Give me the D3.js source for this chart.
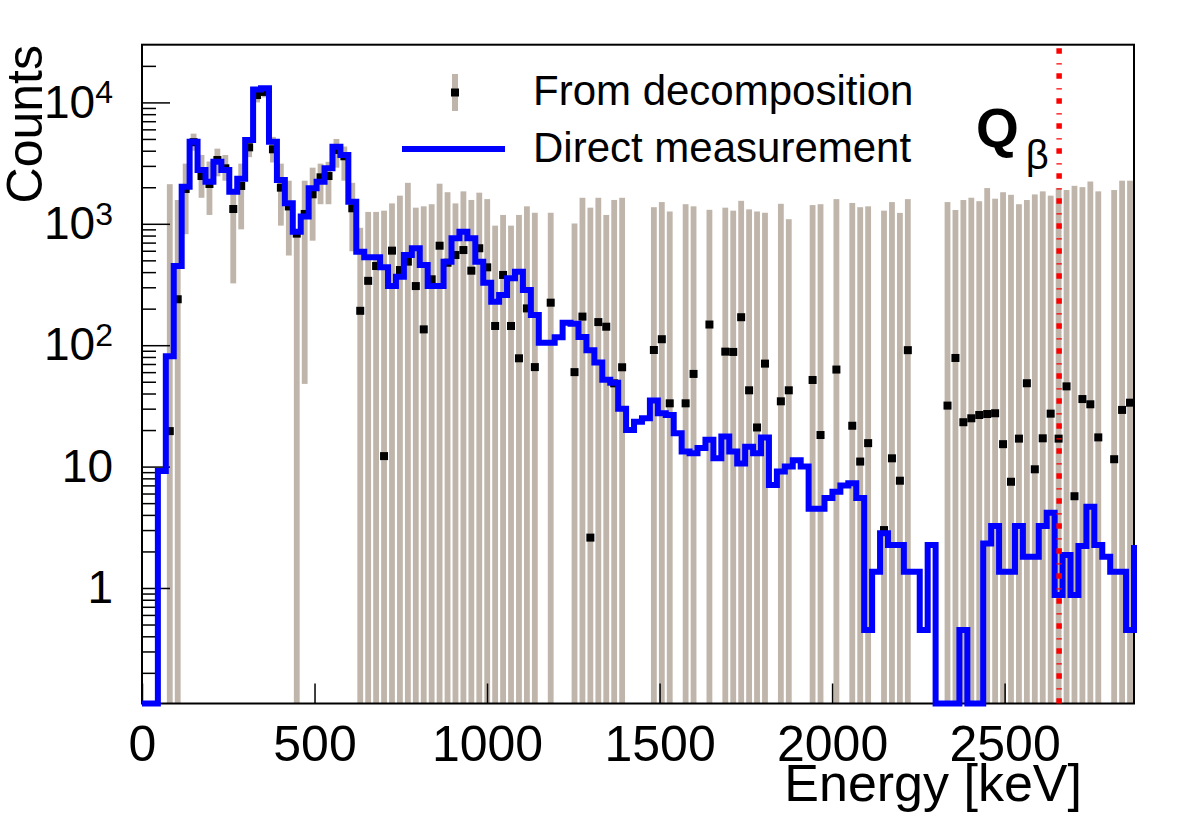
<!DOCTYPE html>
<html>
<head>
<meta charset="utf-8">
<script src="https://cdn.jsdelivr.net/npm/d3@7"></script>
<style>
  html, body { margin: 0; padding: 0; background: #fff; }
  svg { display: block; font-family: "Liberation Sans", Arial, Helvetica, sans-serif; }
</style>
</head>
<body>
<svg id="chart" width="1182" height="819"></svg>
<script>
// 125 bins of 23 keV starting at 0 keV
const binWidth = 23;
const nBins = 125;

// direct measurement (blue histogram); last entry is the first bin past the axis end
const directCounts = [
  0, 0, 9.2, 81, 449, 2020, 4740, 2775, 2220, 3250,
  2775, 1840, 2350, 4900, 12800, 13060, 4740, 2300, 1475, 861,
  1146, 1960, 2220, 2865, 4320, 3690, 1520, 589, 530, 530,
  438, 307, 367, 553, 629, 458, 307, 307, 488, 760,
  861, 760, 488, 327, 228, 259, 356, 403, 285, 177,
  105, 105, 116, 153, 150, 117, 91, 72, 52, 49,
  30, 20, 23.4, 25, 35, 27.5, 26.6, 18.8, 13.3, 12.9,
  14.2, 16.6, 11.7, 17.7, 13.3, 10.6, 14.6, 12.9, 17.4, 7.05,
  9.1, 10, 11.3, 10, 4.5, 4.5, 5.5, 6.2, 7, 7.3,
  5.5, 0.45, 1.36, 2.82, 2.26, 2.26, 1.36, 1.36, 0.45, 2.26,
  0, 0, 0, 0.45, 0, 0, 2.33, 3.24, 1.36, 1.36,
  3.24, 1.81, 1.81, 3.24, 4.17, 0.875, 1.87, 0.875, 2.22, 4.67,
  2.26, 1.81, 1.36, 1.36, 0.45, 2.26
];

// from decomposition (points), null = no point in that bin
const decompCounts = [
  null, null, null, 19.6, 239, 1936, 4700, 2475, 2128, 3355,
  2865, 1324, 2050, 4266, 11500, 12200, 4110, 1985, 1390, 830,
  1205, 1750, 2415, 2475, 4055, 3600, 1342, 192, 339, 449,
  12.2, 601, 416, 488, 307, 135, 349, 660, 478, 553,
  608, 411, 629, 438, 144, 379, 144, 78, 201, 66,
  null, 224, null, null, 60, 172, 2.6, 155, 142, 48.5,
  65.8, null, null, null, 91.3, 112, 33.2, null, 33.2, 58,
  null, 148, null, 88.5, 88, 170, 42.5, 21, 70.5, null,
  34.5, 42.5, null, null, 51.7, 18.2, null, 63, null, 21.7,
  11, 15.6, null, 3.0, 11.7, 7.65, 91, null, null, null,
  null, 31.8, 78.5, 23.2, 25, 26.6, 27.1, 27.5, 15.3, 7.5,
  17, 48.6, 9.5, 17.1, 27.3, 17, 45.8, 5.7, 36, 32.6,
  17.4, null, 11.5, 29.3, 33.6
];

// error band of the decomposition: lower and upper ends (0 = below the axis)
const decompLow = [
  null, null, null, 0, 0, 822, 4000, 1638, 1183, 2460,
  2265, 323, 900, 3540, 10000, 11000, 3200, 966, 548, 0,
  48, 726, 1450, 1450, 2900, 2265, 594, 0, 0, 0,
  0, 0, 0, 0, 0, 0, 0, 0, 0, 0,
  0, 0, 0, 0, 0, 0, 0, 0, 0, 0,
  null, 0, null, null, 0, 0, 0, 0, 0, 0,
  0, null, null, null, 0, 0, 0, null, 0, 0,
  null, 0, null, 0, 0, 0, 0, 0, 0, null,
  0, 0, null, null, 0, 0, null, 0, null, 0,
  0, 0, null, 0, 0, 0, 0, null, null, null,
  null, 0, 0, 0, 0, 0, 0, 0, 0, 0,
  0, 0, 0, 0, 0, 0, 0, 0, 0, 0,
  0, null, 0, 0, 0
];
const decompHigh = [
  null, null, null, 2120, 1570, 3130, 5530, 3690, 3260, 4160,
  3690, 1775, 3130, 4700, 13000, 13500, 5200, 3130, 2265, 855,
  2265, 2900, 3130, 3240, 5000, 4330, 2175, 927, 1253, 1253,
  1283, 1473, 1706, 2175, 1358, 1393, 1450, 2140, 1820, 1473,
  1850, 1572, 1805, 1597, 966, 1183, 966, 1183, 1393, 1233,
  null, 1233, null, null, 1006, 1638, 1358, 1638, 1183, 1572,
  1638, null, null, null, 1370, 1510, 1263, null, 1450, 1393,
  null, 1304, null, 1358, 1283, 1546, 1315, 1263, 1233, null,
  1461, 1091, null, null, 1426, 1450, null, 1597, null, 1485,
  1370, 1393, null, 1283, 1510, 1230, 1597, null, null, null,
  null, 1510, 1300, 1570, 1640, 1535, 1970, 1610, 1820, 1733,
  1450, 1570, 1746, 1850, 1706, 1958, 1897, 2055, 2005, 2230,
  1850, null, 1897, 2265, 2265
];

const xTicks = [0, 500, 1000, 1500, 2000, 2500];
const yMajor = [1, 10, 100, 1000, 10000];
const yMinor = [0.2, 0.3, 0.4, 0.5, 0.6, 0.7, 0.8, 0.9,
  2, 3, 4, 5, 6, 7, 8, 9, 20, 30, 40, 50, 60, 70, 80, 90,
  200, 300, 400, 500, 600, 700, 800, 900,
  2000, 3000, 4000, 5000, 6000, 7000, 8000, 9000, 20000];
const qBeta = 2658;
const legendLabels = ["From decomposition", "Direct measurement"];

const svg = d3.select("#chart");
const W = 1182, H = 819;
const fL = 142, fR = 1134, fT = 44.7, fB = 703.5;

const yMin = 0.1118, yMax = 29880;
const x = d3.scaleLinear().domain([0, nBins * binWidth]).range([fL, fR]);
const y = d3.scaleLog().domain([yMin, yMax]).range([fB, fT]);
const yc = v => (v == null || v <= yMin) ? fB : y(v);

svg.append("rect").attr("width", W).attr("height", H).attr("fill", "#fff");

// error bars (grey)
const barW = 5.8;
const gBars = svg.append("g");
decompCounts.forEach((v, i) => {
  if (decompHigh[i] == null) return;
  const cx = x((i + 0.5) * binWidth);
  const y1 = yc(decompHigh[i]), y2 = yc(decompLow[i]);
  gBars.append("rect")
    .attr("x", cx - barW / 2).attr("width", barW)
    .attr("y", y1).attr("height", Math.max(0, y2 - y1))
    .attr("fill", "#bfb5aa");
});

// points (black squares)
const mk = 8;
svg.append("g").selectAll("rect")
  .data(decompCounts.map((v, i) => ({ v, i })).filter(d => d.v != null))
  .join("rect")
  .attr("x", d => x((d.i + 0.5) * binWidth) - mk / 2)
  .attr("y", d => y(d.v) - mk / 2)
  .attr("width", mk).attr("height", mk)
  .attr("fill", "#000");

// axes
const xAxis = d3.axisBottom(x).tickValues(xTicks)
  .tickSizeInner(-20).tickSizeOuter(0).tickPadding(22)
  .tickFormat(d3.format("d"));
const gx = svg.append("g").attr("transform", `translate(0,${fB})`).call(xAxis);
gx.select(".domain").remove();
gx.selectAll("line").attr("stroke", "#000").attr("stroke-width", 1.5);
gx.selectAll("text").attr("font-size", 50).attr("fill", "#000")
  .attr("font-family", "Liberation Sans, Arial, sans-serif");

const gyMinor = svg.append("g").attr("transform", `translate(${fL},0)`)
  .call(d3.axisLeft(y).tickValues(yMinor).tickSizeInner(-14).tickSizeOuter(0).tickFormat(() => ""));
gyMinor.select(".domain").remove();
gyMinor.selectAll("line").attr("stroke", "#000").attr("stroke-width", 1.5);

const yAxis = d3.axisLeft(y).tickValues(yMajor)
  .tickSizeInner(-28).tickSizeOuter(0).tickPadding(29).tickFormat(() => "");
const gy = svg.append("g").attr("transform", `translate(${fL},0)`).call(yAxis);
gy.select(".domain").remove();
gy.selectAll("line").attr("stroke", "#000").attr("stroke-width", 1.5);
gy.selectAll("text")
  .attr("font-size", 46).attr("fill", "#000")
  .attr("font-family", "Liberation Sans, Arial, sans-serif")
  .each(function (d) {
    const t = d3.select(this);
    const e = Math.round(Math.log10(d));
    if (e < 2) { t.text(d3.format("d")(d)); return; }
    t.append("tspan").text("10");
    t.append("tspan").attr("dy", "-0.45em").attr("font-size", 32).text(e);
  });

// frame
svg.append("rect")
  .attr("x", fL).attr("y", fT)
  .attr("width", fR - fL).attr("height", fB - fT)
  .attr("fill", "none").attr("stroke", "#000").attr("stroke-width", 2);

// direct measurement histogram (blue)
const steps = [{ e: 0, v: 0 }].concat(
  directCounts.map((v, i) => ({ e: i * binWidth, v }))
);
const line = d3.line()
  .x(d => x(d.e))
  .y(d => yc(d.v))
  .curve(d3.curveStepAfter);
svg.append("path")
  .attr("d", line(steps))
  .attr("fill", "none")
  .attr("stroke", "#0000ff")
  .attr("stroke-width", 6)
  .attr("stroke-linejoin", "miter");

// Q beta line
svg.append("line")
  .attr("x1", x(qBeta)).attr("x2", x(qBeta))
  .attr("y1", fT).attr("y2", fB)
  .attr("stroke", "#ff0000").attr("stroke-width", 5.5)
  .attr("stroke-dasharray", "5.5,9.5,1.2,8.8")
  .attr("stroke-dashoffset", -3.5);

const qt = svg.append("text")
  .attr("x", 976).attr("y", 147)
  .attr("font-size", 55).attr("fill", "#000");
qt.append("tspan").attr("font-weight", "bold").text("Q");
qt.append("tspan").attr("dx", 7).attr("dy", 22).attr("font-size", 40).text("β");

// legend
const lg = svg.append("g");
lg.append("rect").attr("x", 452).attr("y", 74).attr("width", 6).attr("height", 37).attr("fill", "#bfb5aa");
lg.append("rect").attr("x", 451).attr("y", 88.5).attr("width", 8).attr("height", 8).attr("fill", "#000");
lg.append("line").attr("x1", 402).attr("x2", 505).attr("y1", 149).attr("y2", 149)
  .attr("stroke", "#0000ff").attr("stroke-width", 6);
lg.selectAll("text").data(legendLabels).join("text")
  .attr("x", 533).attr("y", (d, i) => 105 + i * 57)
  .attr("font-size", 42).attr("fill", "#000")
  .text(d => d);

// axis titles
svg.append("text")
  .attr("x", 1082).attr("y", 801)
  .attr("text-anchor", "end").attr("font-size", 52).attr("fill", "#000")
  .text("Energy [keV]");
svg.append("text")
  .attr("transform", "translate(42,45) rotate(-90)")
  .attr("text-anchor", "end").attr("font-size", 50).attr("fill", "#000")
  .text("Counts");
</script>
</body>
</html>
